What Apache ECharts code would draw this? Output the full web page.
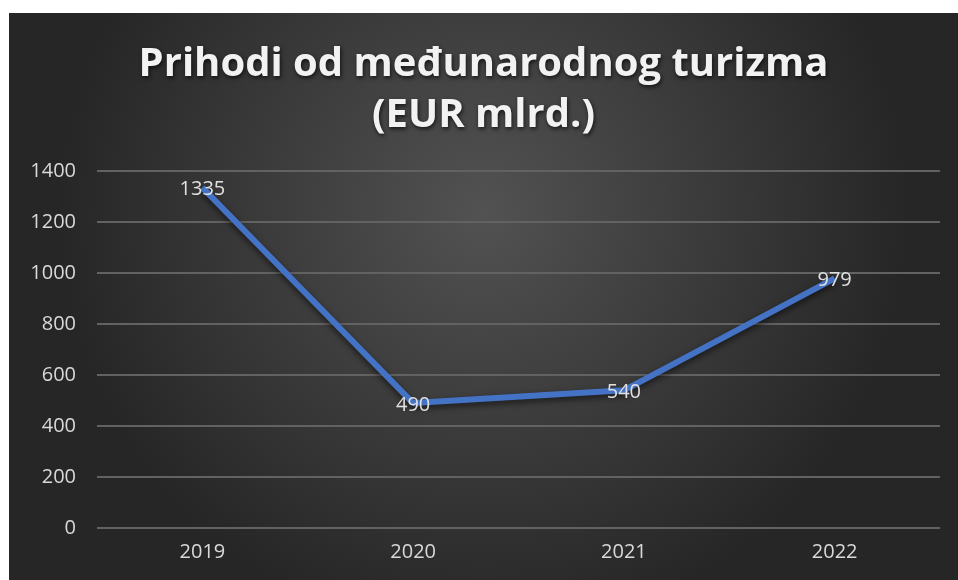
<!DOCTYPE html>
<html>
<head>
<meta charset="utf-8">
<script src="https://cdn.jsdelivr.net/npm/echarts@6/dist/echarts.min.js"></script>
<style>
  html, body { margin: 0; padding: 0; background: #fff; }
  #chart { position: absolute; left: 9px; top: 13px; width: 949px; height: 567px; }
</style>
</head>
<body>
<div id="chart"></div>
<script>
const years = ['2019', '2020', '2021', '2022'];
const revenue = [1335, 490, 540, 979];
const yTicks = [0, 200, 400, 600, 800, 1000, 1200, 1400];

const myChart = echarts.init(document.getElementById('chart'));

const option = {
  // tamna pozadina, svjetlija u sredini
  backgroundColor: {
    type: 'radial', x: 0.5, y: 0.35, r: 0.75,
    colorStops: [
      { offset: 0, color: '#525252' },
      { offset: 1, color: '#262626' }
    ]
  },
  title: {
    text: 'Prihodi od međunarodnog turizma\n(EUR mlrd.)',
    left: 'center',
    top: 21,
    textStyle: {
      color: '#f2f2f2',
      fontFamily: 'Open Sans',
      fontWeight: 'bold',
      fontSize: 40,
      lineHeight: 51,
      textShadowColor: 'rgba(0,0,0,0.7)',
      textShadowBlur: 4,
      textShadowOffsetX: 1,
      textShadowOffsetY: 2
    }
  },
  grid: { left: 88, right: 18, top: 158, bottom: 52 },
  xAxis: {
    type: 'category',
    data: years,
    boundaryGap: true,
    axisLine: { show: false },
    axisTick: { show: false },
    axisLabel: { color: '#d9d9d9', fontSize: 20, fontFamily: 'Open Sans', margin: 14 }
  },
  yAxis: {
    type: 'value',
    min: yTicks[0],
    max: yTicks[yTicks.length - 1],
    interval: 200,
    axisLine: { show: false },
    axisTick: { show: false },
    axisLabel: { color: '#d9d9d9', fontSize: 20, fontFamily: 'Open Sans', margin: 21, formatter: v => String(v) },
    splitLine: { lineStyle: { color: '#626262', width: 2 } }
  },
  series: [{
    type: 'line',
    data: revenue,
    symbol: 'circle',
    symbolSize: 1,
    showSymbol: true,
    itemStyle: { color: 'rgba(0,0,0,0)' },
    lineStyle: {
      color: '#4472c4',
      width: 6,
      shadowColor: 'rgba(0,0,0,0.6)',
      shadowBlur: 6,
      shadowOffsetY: 3
    },
    label: {
      show: true,
      position: 'inside',
      offset: [0, 2],
      color: '#e0e0e0',
      fontSize: 20,
      fontFamily: 'Open Sans'
    },
    z: 3
  }]
};

myChart.setOption(option);
</script>
</body>
</html>
